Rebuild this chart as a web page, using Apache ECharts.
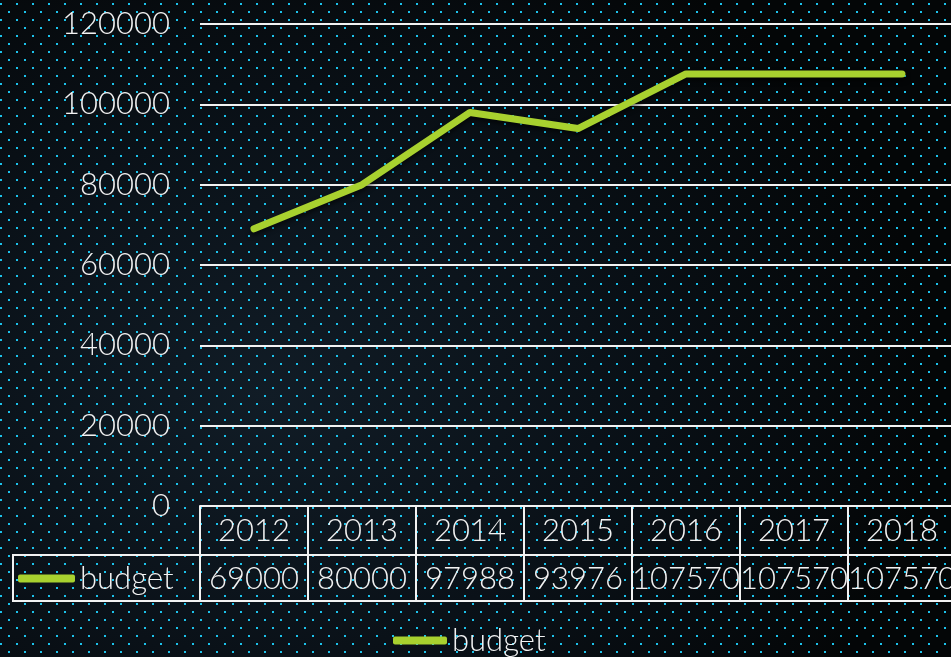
<!DOCTYPE html>
<html>
<head>
<meta charset="utf-8">
<script src="https://cdn.jsdelivr.net/npm/echarts@6/dist/echarts.min.js"></script>
<style>
    html,body{margin:0;padding:0;}
    #budgetChart{
        width:951px;height:657px;
        background:radial-gradient(ellipse 70% 80% at 28% 60%, #111c26 0%, #0a1118 50%, #040607 100%);
    }
</style>
</head>
<body>
<div id="budgetChart"></div>
<script>
var years = ['2012','2013','2014','2015','2016','2017','2018'];
var budget = [69000, 80000, 97988, 93976, 107570, 107570, 107570];
var yTicks = {min:0, max:120000, step:20000};

var FONT = 'Lato';
var WEIGHT = 300;
var FSIZE = 31;
var WHITE = '#f2f2f2';
var GREEN = '#a8d12f';

// dotted backdrop tile
function dotTile(){
    var c = document.createElement('canvas');
    c.width = 16; c.height = 16;
    var ctx = c.getContext('2d');
    ctx.fillStyle = '#1cc3ec';
    ctx.fillRect(0,3,2,2);
    ctx.fillRect(8,11,2,2);
    return c;
}

var txt = {color:WHITE, fontSize:FSIZE, fontFamily:FONT, fontWeight:WEIGHT};

var chart = echarts.init(document.getElementById('budgetChart'));

var option = {
    backgroundColor:{image:dotTile(), repeat:'repeat'},
    textStyle:{fontFamily:FONT},
    grid:{left:200, top:24, width:756, height:482, containLabel:false, outerBoundsMode:'none'},
    legend:[
        {   // legend key inside the data table
            left:18, top:563, padding:0,
            itemWidth:57, itemHeight:8,
            icon:'roundRect',
            textStyle:txt,
            data:['budget']
        },
        {   // legend under the chart
            left:393, top:625, padding:0,
            itemWidth:54, itemHeight:8,
            icon:'roundRect',
            textStyle:txt,
            data:['budget']
        }
    ],
    xAxis:[
        {
            type:'category', data:years, position:'bottom',
            axisLine:{show:true, lineStyle:{color:WHITE, width:2}},
            axisTick:{show:true, interval:0, length:95, lineStyle:{color:WHITE, width:2}},
            axisLabel:Object.assign({margin:9, interval:0}, txt)
        },
        {
            type:'category', data:years, position:'bottom', offset:49,
            axisLine:{show:true, lineStyle:{color:WHITE, width:2}},
            axisTick:{show:false},
            axisLabel:Object.assign({
                margin:8, interval:0,
                formatter:function(v, i){ return String(budget[i]); }
            }, txt)
        },
        {
            type:'category', data:years, position:'bottom', offset:95,
            axisLine:{show:true, lineStyle:{color:WHITE, width:2}},
            axisTick:{show:false},
            axisLabel:{show:false}
        }
    ],
    yAxis:{
        type:'value',
        min:yTicks.min, max:yTicks.max, interval:yTicks.step,
        axisLine:{show:false},
        axisTick:{show:false},
        axisLabel:Object.assign({margin:30, formatter:function(v){ return String(v); }}, txt),
        splitLine:{lineStyle:{color:WHITE, width:2}}
    },
    // left cell of the value row
    graphic:[{
        type:'polyline',
        shape:{points:[[200,555],[13,555],[13,601],[200,601]]},
        style:{stroke:WHITE, lineWidth:2, fill:null},
        silent:true
    }],
    series:[{
        name:'budget',
        type:'line',
        data:budget,
        showSymbol:false,
        symbol:'none',
        itemStyle:{color:GREEN},
        lineStyle:{
            color:GREEN, width:7, cap:'round', join:'round',
            shadowColor:'rgba(0,0,0,0.6)', shadowBlur:5, shadowOffsetY:3
        }
    }]
};

chart.setOption(option);
</script>
</body>
</html>
